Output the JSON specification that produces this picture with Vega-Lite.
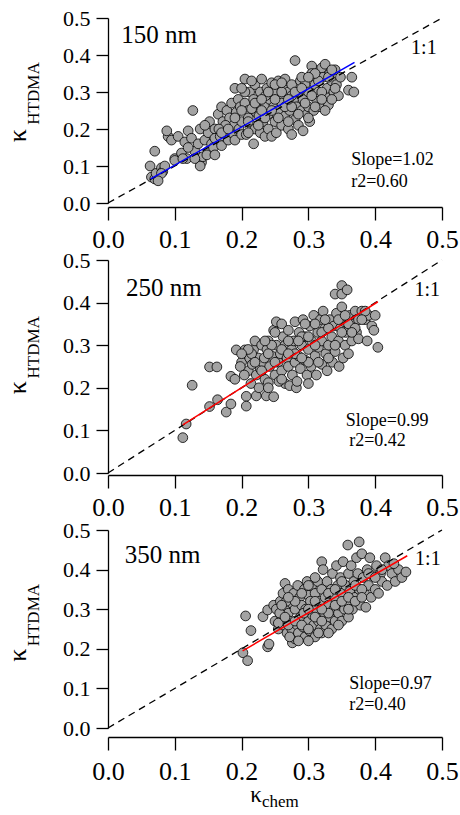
{
"$schema":"https://vega.github.io/schema/vega-lite/v6.json",
"padding":{"left":4,"top":7,"right":0,"bottom":0},
"bounds":"flush",
"spacing":57,
"config":{"font":"Liberation Serif","view":{"stroke":null},
"axis":{"grid":false,"domainColor":"black","domainWidth":1.3,"tickColor":"black","tickWidth":1.3,"labelColor":"black","labelFont":"Liberation Serif","title":null,"labelFlush":false,"labelOverlap":false,"labelBound":false,"labelSeparation":-30},
"axisY":{"tickSize":12,"labelPadding":6,"labelFontSize":22,"labelOverlap":false},
"axisX":{"tickSize":13,"labelPadding":6,"labelFontSize":26},
"text":{"font":"Liberation Serif","color":"black"}},
"datasets":{
"p150":[{"x":0.063,"y":0.1},{"x":0.065,"y":0.07},{"x":0.07,"y":0.065},{"x":0.072,"y":0.08},{"x":0.07,"y":0.14},{"x":0.08,"y":0.095},{"x":0.082,"y":0.085},{"x":0.085,"y":0.1},{"x":0.08,"y":0.08},{"x":0.075,"y":0.06},
{"x":0.09,"y":0.18},{"x":0.088,"y":0.195},{"x":0.095,"y":0.17},{"x":0.1,"y":0.12},{"x":0.105,"y":0.18},{"x":0.1,"y":0.115},{"x":0.11,"y":0.135},{"x":0.115,"y":0.165},{"x":0.118,"y":0.12},{"x":0.12,"y":0.195},{"x":0.112,"y":0.12},{"x":0.127,"y":0.25},
{"x":0.125,"y":0.175},{"x":0.13,"y":0.14},{"x":0.135,"y":0.16},{"x":0.138,"y":0.2},{"x":0.14,"y":0.11},{"x":0.138,"y":0.1},{"x":0.142,"y":0.125},{"x":0.145,"y":0.17},{"x":0.15,"y":0.19},{"x":0.15,"y":0.14},{"x":0.152,"y":0.22},{"x":0.155,"y":0.16},{"x":0.158,"y":0.15},{"x":0.16,"y":0.2},{"x":0.16,"y":0.175},{"x":0.148,"y":0.13},{"x":0.145,"y":0.21},
{"x":0.165,"y":0.24},{"x":0.168,"y":0.18},{"x":0.17,"y":0.26},{"x":0.17,"y":0.155},{"x":0.172,"y":0.22},{"x":0.175,"y":0.2},{"x":0.178,"y":0.25},{"x":0.18,"y":0.17},{"x":0.182,"y":0.23},{"x":0.185,"y":0.27},{"x":0.185,"y":0.19},{"x":0.188,"y":0.21},{"x":0.19,"y":0.31},{"x":0.19,"y":0.17},{"x":0.192,"y":0.245},{"x":0.195,"y":0.28},{"x":0.196,"y":0.2},{"x":0.198,"y":0.26},{"x":0.2,"y":0.22},{"x":0.2,"y":0.185},{"x":0.176,"y":0.21},{"x":0.166,"y":0.2},
{"x":0.205,"y":0.335},{"x":0.205,"y":0.27},{"x":0.207,"y":0.185},{"x":0.21,"y":0.25},{"x":0.21,"y":0.23},{"x":0.212,"y":0.3},{"x":0.215,"y":0.21},{"x":0.218,"y":0.16},{"x":0.218,"y":0.28},{"x":0.22,"y":0.32},{"x":0.22,"y":0.2},{"x":0.222,"y":0.245},{"x":0.225,"y":0.27},{"x":0.228,"y":0.3},{"x":0.228,"y":0.19},{"x":0.23,"y":0.335},{"x":0.232,"y":0.22},{"x":0.235,"y":0.26},{"x":0.235,"y":0.18},{"x":0.238,"y":0.31},{"x":0.24,"y":0.24},{"x":0.24,"y":0.2},{"x":0.242,"y":0.28},{"x":0.245,"y":0.325},{"x":0.245,"y":0.18},{"x":0.248,"y":0.26},{"x":0.25,"y":0.22},{"x":0.25,"y":0.3},{"x":0.215,"y":0.255},{"x":0.226,"y":0.235},{"x":0.236,"y":0.29},
{"x":0.252,"y":0.19},{"x":0.255,"y":0.33},{"x":0.255,"y":0.25},{"x":0.258,"y":0.28},{"x":0.26,"y":0.21},{"x":0.262,"y":0.31},{"x":0.265,"y":0.335},{"x":0.265,"y":0.235},{"x":0.268,"y":0.27},{"x":0.27,"y":0.2},{"x":0.27,"y":0.3},{"x":0.272,"y":0.25},{"x":0.275,"y":0.32},{"x":0.275,"y":0.185},{"x":0.278,"y":0.28},{"x":0.28,"y":0.385},{"x":0.28,"y":0.225},{"x":0.282,"y":0.26},{"x":0.285,"y":0.3},{"x":0.285,"y":0.21},{"x":0.288,"y":0.33},{"x":0.29,"y":0.25},{"x":0.292,"y":0.195},{"x":0.292,"y":0.28},{"x":0.295,"y":0.32},{"x":0.298,"y":0.24},{"x":0.3,"y":0.3},{"x":0.3,"y":0.26},{"x":0.26,"y":0.27},{"x":0.275,"y":0.29},
{"x":0.302,"y":0.22},{"x":0.305,"y":0.37},{"x":0.305,"y":0.35},{"x":0.308,"y":0.25},{"x":0.31,"y":0.32},{"x":0.312,"y":0.28},{"x":0.315,"y":0.3},{"x":0.318,"y":0.26},{"x":0.32,"y":0.365},{"x":0.322,"y":0.34},{"x":0.325,"y":0.375},{"x":0.325,"y":0.29},{"x":0.328,"y":0.31},{"x":0.33,"y":0.265},{"x":0.332,"y":0.35},{"x":0.335,"y":0.33},{"x":0.338,"y":0.3},{"x":0.34,"y":0.36},{"x":0.342,"y":0.32},{"x":0.345,"y":0.29},{"x":0.348,"y":0.34},{"x":0.36,"y":0.305},{"x":0.365,"y":0.34},{"x":0.368,"y":0.3},{"x":0.335,"y":0.28},
{"x":0.19,"y":0.23},{"x":0.2,"y":0.25},{"x":0.205,"y":0.3},{"x":0.21,"y":0.19},{"x":0.22,"y":0.27},{"x":0.225,"y":0.21},{"x":0.23,"y":0.28},{"x":0.235,"y":0.23},{"x":0.24,"y":0.3},{"x":0.245,"y":0.25},{"x":0.25,"y":0.28},{"x":0.255,"y":0.23},{"x":0.26,"y":0.3},{"x":0.265,"y":0.26},{"x":0.27,"y":0.22},{"x":0.275,"y":0.26},{"x":0.28,"y":0.3},{"x":0.285,"y":0.24},{"x":0.29,"y":0.31},{"x":0.295,"y":0.27},{"x":0.3,"y":0.23},{"x":0.305,"y":0.29},{"x":0.31,"y":0.26},{"x":0.315,"y":0.33},{"x":0.32,"y":0.3},{"x":0.325,"y":0.25},{"x":0.33,"y":0.34},{"x":0.34,"y":0.31},{"x":0.2,"y":0.31},{"x":0.215,"y":0.33},{"x":0.25,"y":0.32},{"x":0.26,"y":0.325},{"x":0.29,"y":0.34},{"x":0.31,"y":0.35},{"x":0.12,"y":0.15},{"x":0.13,"y":0.12},{"x":0.16,"y":0.13},{"x":0.17,"y":0.19},{"x":0.18,"y":0.2},{"x":0.21,"y":0.22},{"x":0.23,"y":0.25},{"x":0.27,"y":0.28},{"x":0.3,"y":0.34},{"x":0.335,"y":0.36},{"x":0.32,"y":0.28}],
"p250":[{"x":0.112,"y":0.083},{"x":0.117,"y":0.115},{"x":0.126,"y":0.206},{"x":0.152,"y":0.249},{"x":0.163,"y":0.249},{"x":0.152,"y":0.156},{"x":0.164,"y":0.172},{"x":0.177,"y":0.143},{"x":0.184,"y":0.162},{"x":0.184,"y":0.227},{"x":0.19,"y":0.22},
{"x":0.192,"y":0.289},{"x":0.2,"y":0.26},{"x":0.205,"y":0.289},{"x":0.207,"y":0.18},{"x":0.207,"y":0.157},{"x":0.21,"y":0.24},{"x":0.212,"y":0.27},{"x":0.214,"y":0.21},{"x":0.216,"y":0.255},{"x":0.218,"y":0.29},{"x":0.22,"y":0.31},{"x":0.222,"y":0.181},{"x":0.222,"y":0.23},{"x":0.225,"y":0.27},{"x":0.226,"y":0.2},{"x":0.228,"y":0.245},{"x":0.23,"y":0.3},{"x":0.198,"y":0.25},{"x":0.204,"y":0.23},{"x":0.215,"y":0.28},
{"x":0.232,"y":0.26},{"x":0.235,"y":0.22},{"x":0.237,"y":0.181},{"x":0.238,"y":0.29},{"x":0.24,"y":0.212},{"x":0.24,"y":0.31},{"x":0.242,"y":0.25},{"x":0.245,"y":0.275},{"x":0.248,"y":0.179},{"x":0.248,"y":0.335},{"x":0.25,"y":0.23},{"x":0.252,"y":0.355},{"x":0.252,"y":0.3},{"x":0.255,"y":0.26},{"x":0.258,"y":0.28},{"x":0.26,"y":0.35},{"x":0.26,"y":0.24},{"x":0.262,"y":0.32},{"x":0.265,"y":0.21},{"x":0.265,"y":0.3},{"x":0.268,"y":0.27},{"x":0.27,"y":0.25},{"x":0.27,"y":0.335},{"x":0.245,"y":0.3},{"x":0.234,"y":0.27},{"x":0.256,"y":0.215},
{"x":0.272,"y":0.205},{"x":0.275,"y":0.29},{"x":0.276,"y":0.23},{"x":0.278,"y":0.31},{"x":0.28,"y":0.355},{"x":0.28,"y":0.26},{"x":0.282,"y":0.2},{"x":0.285,"y":0.275},{"x":0.286,"y":0.33},{"x":0.288,"y":0.245},{"x":0.29,"y":0.3},{"x":0.292,"y":0.36},{"x":0.295,"y":0.265},{"x":0.295,"y":0.32},{"x":0.298,"y":0.23},{"x":0.3,"y":0.29},{"x":0.302,"y":0.345},{"x":0.304,"y":0.25},{"x":0.305,"y":0.31},{"x":0.308,"y":0.37},{"x":0.31,"y":0.275},{"x":0.312,"y":0.23},{"x":0.314,"y":0.33},{"x":0.315,"y":0.295},{"x":0.318,"y":0.36},{"x":0.32,"y":0.255},{"x":0.32,"y":0.31},{"x":0.283,"y":0.215},{"x":0.3,"y":0.21},
{"x":0.322,"y":0.38},{"x":0.325,"y":0.34},{"x":0.326,"y":0.28},{"x":0.328,"y":0.24},{"x":0.33,"y":0.3},{"x":0.332,"y":0.36},{"x":0.335,"y":0.32},{"x":0.336,"y":0.26},{"x":0.338,"y":0.345},{"x":0.34,"y":0.42},{"x":0.34,"y":0.285},{"x":0.342,"y":0.375},{"x":0.345,"y":0.31},{"x":0.346,"y":0.25},{"x":0.348,"y":0.34},{"x":0.35,"y":0.44},{"x":0.35,"y":0.42},{"x":0.35,"y":0.39},{"x":0.352,"y":0.27},{"x":0.354,"y":0.355},{"x":0.355,"y":0.3},{"x":0.356,"y":0.33},{"x":0.358,"y":0.43},{"x":0.36,"y":0.28},
{"x":0.362,"y":0.37},{"x":0.365,"y":0.31},{"x":0.368,"y":0.35},{"x":0.37,"y":0.38},{"x":0.372,"y":0.33},{"x":0.375,"y":0.315},{"x":0.38,"y":0.38},{"x":0.385,"y":0.36},{"x":0.388,"y":0.31},{"x":0.39,"y":0.37},{"x":0.395,"y":0.345},{"x":0.398,"y":0.335},{"x":0.4,"y":0.37},{"x":0.404,"y":0.295},{"x":0.385,"y":0.38},{"x":0.375,"y":0.36},
{"x":0.22,"y":0.26},{"x":0.23,"y":0.24},{"x":0.24,"y":0.28},{"x":0.25,"y":0.26},{"x":0.26,"y":0.29},{"x":0.27,"y":0.31},{"x":0.28,"y":0.28},{"x":0.29,"y":0.32},{"x":0.3,"y":0.26},{"x":0.31,"y":0.3},{"x":0.32,"y":0.33},{"x":0.33,"y":0.27},{"x":0.34,"y":0.3},{"x":0.35,"y":0.33},{"x":0.36,"y":0.35},{"x":0.37,"y":0.34},{"x":0.33,"y":0.34},{"x":0.31,"y":0.35},{"x":0.29,"y":0.27},{"x":0.27,"y":0.28},{"x":0.25,"y":0.33},{"x":0.235,"y":0.31},{"x":0.21,"y":0.29},{"x":0.2,"y":0.28},{"x":0.3,"y":0.32},{"x":0.315,"y":0.26},{"x":0.345,"y":0.36},{"x":0.355,"y":0.37},{"x":0.365,"y":0.33},{"x":0.38,"y":0.36},{"x":0.26,"y":0.22},{"x":0.24,"y":0.2},{"x":0.285,"y":0.31},{"x":0.295,"y":0.35},{"x":0.325,"y":0.36}],
"p350":[{"x":0.202,"y":0.19},{"x":0.209,"y":0.17},{"x":0.206,"y":0.283},{"x":0.214,"y":0.246},{"x":0.232,"y":0.281},{"x":0.239,"y":0.205},{"x":0.241,"y":0.212},{"x":0.239,"y":0.298},
{"x":0.248,"y":0.31},{"x":0.25,"y":0.27},{"x":0.252,"y":0.3},{"x":0.255,"y":0.25},{"x":0.258,"y":0.32},{"x":0.26,"y":0.28},{"x":0.262,"y":0.34},{"x":0.262,"y":0.26},{"x":0.265,"y":0.3},{"x":0.265,"y":0.365},{"x":0.268,"y":0.24},{"x":0.27,"y":0.35},{"x":0.27,"y":0.29},{"x":0.272,"y":0.27},{"x":0.275,"y":0.315},{"x":0.275,"y":0.25},{"x":0.276,"y":0.215},{"x":0.278,"y":0.34},{"x":0.28,"y":0.225},{"x":0.28,"y":0.3},{"x":0.257,"y":0.29},{"x":0.267,"y":0.32},{"x":0.272,"y":0.23},{"x":0.283,"y":0.26},
{"x":0.284,"y":0.36},{"x":0.285,"y":0.24},{"x":0.287,"y":0.33},{"x":0.288,"y":0.28},{"x":0.29,"y":0.31},{"x":0.292,"y":0.255},{"x":0.294,"y":0.35},{"x":0.295,"y":0.23},{"x":0.296,"y":0.3},{"x":0.298,"y":0.37},{"x":0.3,"y":0.27},{"x":0.3,"y":0.335},{"x":0.302,"y":0.245},{"x":0.304,"y":0.31},{"x":0.305,"y":0.36},{"x":0.306,"y":0.285},{"x":0.308,"y":0.26},{"x":0.31,"y":0.34},{"x":0.31,"y":0.23},{"x":0.312,"y":0.3},{"x":0.314,"y":0.37},{"x":0.315,"y":0.27},{"x":0.317,"y":0.32},{"x":0.318,"y":0.25},{"x":0.32,"y":0.42},{"x":0.32,"y":0.35},{"x":0.32,"y":0.24},{"x":0.293,"y":0.29},{"x":0.303,"y":0.32},
{"x":0.322,"y":0.4},{"x":0.324,"y":0.29},{"x":0.325,"y":0.33},{"x":0.326,"y":0.26},{"x":0.328,"y":0.37},{"x":0.33,"y":0.31},{"x":0.332,"y":0.28},{"x":0.334,"y":0.35},{"x":0.335,"y":0.25},{"x":0.336,"y":0.39},{"x":0.338,"y":0.3},{"x":0.34,"y":0.33},{"x":0.34,"y":0.27},{"x":0.342,"y":0.41},{"x":0.344,"y":0.36},{"x":0.345,"y":0.29},{"x":0.346,"y":0.31},{"x":0.348,"y":0.38},{"x":0.35,"y":0.34},{"x":0.35,"y":0.27},{"x":0.352,"y":0.42},{"x":0.354,"y":0.3},{"x":0.356,"y":0.36},{"x":0.358,"y":0.32},{"x":0.359,"y":0.462},{"x":0.36,"y":0.39},{"x":0.36,"y":0.28},
{"x":0.362,"y":0.345},{"x":0.364,"y":0.41},{"x":0.366,"y":0.3},{"x":0.368,"y":0.37},{"x":0.37,"y":0.33},{"x":0.372,"y":0.43},{"x":0.374,"y":0.39},{"x":0.376,"y":0.47},{"x":0.376,"y":0.35},{"x":0.378,"y":0.31},{"x":0.38,"y":0.44},{"x":0.382,"y":0.38},{"x":0.384,"y":0.34},{"x":0.386,"y":0.305},{"x":0.388,"y":0.4},{"x":0.39,"y":0.36},{"x":0.392,"y":0.43},{"x":0.394,"y":0.33},{"x":0.396,"y":0.385},{"x":0.4,"y":0.35},{"x":0.402,"y":0.41},{"x":0.405,"y":0.34},{"x":0.408,"y":0.39},{"x":0.41,"y":0.37},{"x":0.415,"y":0.43},{"x":0.418,"y":0.36},{"x":0.42,"y":0.41},{"x":0.425,"y":0.39},{"x":0.43,"y":0.37},{"x":0.435,"y":0.4},{"x":0.44,"y":0.38},{"x":0.446,"y":0.394},{"x":0.428,"y":0.415},
{"x":0.27,"y":0.26},{"x":0.28,"y":0.27},{"x":0.29,"y":0.26},{"x":0.3,"y":0.25},{"x":0.31,"y":0.28},{"x":0.32,"y":0.27},{"x":0.33,"y":0.29},{"x":0.34,"y":0.31},{"x":0.35,"y":0.32},{"x":0.36,"y":0.33},{"x":0.37,"y":0.36},{"x":0.38,"y":0.35},{"x":0.39,"y":0.39},{"x":0.4,"y":0.38},{"x":0.41,"y":0.4},{"x":0.3,"y":0.3},{"x":0.31,"y":0.32},{"x":0.32,"y":0.3},{"x":0.33,"y":0.34},{"x":0.34,"y":0.35},{"x":0.35,"y":0.37},{"x":0.28,"y":0.32},{"x":0.29,"y":0.34},{"x":0.3,"y":0.36},{"x":0.31,"y":0.38},{"x":0.26,"y":0.31},{"x":0.27,"y":0.33},{"x":0.285,"y":0.22},{"x":0.3,"y":0.22},{"x":0.315,"y":0.24},{"x":0.33,"y":0.24},{"x":0.345,"y":0.26},{"x":0.36,"y":0.3},{"x":0.37,"y":0.32},{"x":0.38,"y":0.33},{"x":0.255,"y":0.265},{"x":0.265,"y":0.28}],
"one":[{"x":0,"y":0},{"x":0.5,"y":0.5}],
"f150":[{"x":0.064,"y":0.065},{"x":0.369,"y":0.38}],
"f250":[{"x":0.112,"y":0.113},{"x":0.404,"y":0.402}],
"f350":[{"x":0.2015,"y":0.195},{"x":0.448,"y":0.435}],
"blank":[{}]
},
"vconcat":[
{"width":334,"height":185,
"layer":[
{"data":{"name":"p150"},"mark":{"type":"circle","size":95,"color":"#a3a3a3","opacity":1,"stroke":"black","strokeWidth":0.8},
"encoding":{"x":{"field":"x","type":"quantitative","scale":{"domain":[0,0.5],"nice":false,"zero":false},"axis":{"offset":4,"values":[0,0.1,0.2,0.3,0.4,0.5],"format":".1f","labelOverlap":false}},"y":{"field":"y","type":"quantitative","scale":{"domain":[0,0.5],"nice":false,"zero":false},"axis":{"values":[0,0.1,0.2,0.3,0.4,0.5],"format":".1f","labelOverlap":false,"tickCount":6,"labelSeparation":-30}}}},
{"data":{"name":"one"},"mark":{"type":"line","color":"black","strokeWidth":1.3,"strokeDash":[7,5]},"encoding":{"x":{"field":"x","type":"quantitative"},"y":{"field":"y","type":"quantitative"}}},
{"data":{"name":"f150"},"mark":{"type":"line","color":"#0000ff","strokeWidth":1.5},"encoding":{"x":{"field":"x","type":"quantitative"},"y":{"field":"y","type":"quantitative"}}},
{"data":{"name":"blank"},"mark":{"type":"text","text":"150 nm","fontSize":25,"align":"left","baseline":"middle"},"encoding":{"x":{"datum":0.02},"y":{"datum":0.454}}},
{"data":{"name":"blank"},"mark":{"type":"text","text":"1:1","fontSize":20,"align":"right","baseline":"middle"},"encoding":{"x":{"datum":0.492},"y":{"datum":0.42}}},
{"data":{"name":"blank"},"mark":{"type":"text","text":"Slope=1.02","fontSize":18,"align":"left","baseline":"middle"},"encoding":{"x":{"datum":0.364},"y":{"datum":0.117}}},
{"data":{"name":"blank"},"mark":{"type":"text","text":"r2=0.60","fontSize":18,"align":"left","baseline":"middle"},"encoding":{"x":{"datum":0.364},"y":{"datum":0.057}}},
{"data":{"name":"blank"},"mark":{"type":"text","text":"κ","fontSize":26,"angle":270,"align":"center","baseline":"alphabetic"},"encoding":{"x":{"datum":-0.1228},"y":{"datum":0.182}}},
{"data":{"name":"blank"},"mark":{"type":"text","text":"HTDMA","fontSize":17,"angle":270,"align":"center","baseline":"alphabetic"},"encoding":{"x":{"datum":-0.1033},"y":{"datum":0.296}}}
]},
{"width":334,"height":213,
"layer":[
{"data":{"name":"p250"},"mark":{"type":"circle","size":95,"color":"#a3a3a3","opacity":1,"stroke":"black","strokeWidth":0.8},
"encoding":{"x":{"field":"x","type":"quantitative","scale":{"domain":[0,0.5],"nice":false,"zero":false},"axis":{"offset":2,"values":[0,0.1,0.2,0.3,0.4,0.5],"format":".1f","labelOverlap":false}},"y":{"field":"y","type":"quantitative","scale":{"domain":[0,0.5],"nice":false,"zero":false},"axis":{"values":[0,0.1,0.2,0.3,0.4,0.5],"format":".1f","labelOverlap":false,"tickCount":6,"labelSeparation":-30}}}},
{"data":{"name":"one"},"mark":{"type":"line","color":"black","strokeWidth":1.3,"strokeDash":[7,5]},"encoding":{"x":{"field":"x","type":"quantitative"},"y":{"field":"y","type":"quantitative"}}},
{"data":{"name":"f250"},"mark":{"type":"line","color":"#ff0000","strokeWidth":1.5},"encoding":{"x":{"field":"x","type":"quantitative"},"y":{"field":"y","type":"quantitative"}}},
{"data":{"name":"blank"},"mark":{"type":"text","text":"250 nm","fontSize":25,"align":"left","baseline":"middle"},"encoding":{"x":{"datum":0.027},"y":{"datum":0.435}}},
{"data":{"name":"blank"},"mark":{"type":"text","text":"1:1","fontSize":20,"align":"right","baseline":"middle"},"encoding":{"x":{"datum":0.497},"y":{"datum":0.43}}},
{"data":{"name":"blank"},"mark":{"type":"text","text":"Slope=0.99","fontSize":18,"align":"left","baseline":"middle"},"encoding":{"x":{"datum":0.356},"y":{"datum":0.123}}},
{"data":{"name":"blank"},"mark":{"type":"text","text":"r2=0.42","fontSize":18,"align":"left","baseline":"middle"},"encoding":{"x":{"datum":0.361},"y":{"datum":0.074}}},
{"data":{"name":"blank"},"mark":{"type":"text","text":"κ","fontSize":26,"angle":270,"align":"center","baseline":"alphabetic"},"encoding":{"x":{"datum":-0.1228},"y":{"datum":0.2}}},
{"data":{"name":"blank"},"mark":{"type":"text","text":"HTDMA","fontSize":17,"angle":270,"align":"center","baseline":"alphabetic"},"encoding":{"x":{"datum":-0.1033},"y":{"datum":0.295}}}
]},
{"width":334,"height":198,
"layer":[
{"data":{"name":"p350"},"mark":{"type":"circle","size":95,"color":"#a3a3a3","opacity":1,"stroke":"black","strokeWidth":0.8},
"encoding":{"x":{"field":"x","type":"quantitative","scale":{"domain":[0,0.5],"nice":false,"zero":false},"axis":{"offset":9,"labelPadding":8,"values":[0,0.1,0.2,0.3,0.4,0.5],"format":".1f","labelOverlap":false}},"y":{"field":"y","type":"quantitative","scale":{"domain":[0,0.5],"nice":false,"zero":false},"axis":{"values":[0,0.1,0.2,0.3,0.4,0.5],"format":".1f","labelOverlap":false,"tickCount":6,"labelSeparation":-30}}}},
{"data":{"name":"one"},"mark":{"type":"line","color":"black","strokeWidth":1.3,"strokeDash":[7,5]},"encoding":{"x":{"field":"x","type":"quantitative"},"y":{"field":"y","type":"quantitative"}}},
{"data":{"name":"f350"},"mark":{"type":"line","color":"#ff0000","strokeWidth":1.5},"encoding":{"x":{"field":"x","type":"quantitative"},"y":{"field":"y","type":"quantitative"}}},
{"data":{"name":"blank"},"mark":{"type":"text","text":"350 nm","fontSize":25,"align":"left","baseline":"middle"},"encoding":{"x":{"datum":0.025},"y":{"datum":0.437}}},
{"data":{"name":"blank"},"mark":{"type":"text","text":"1:1","fontSize":20,"align":"right","baseline":"middle"},"encoding":{"x":{"datum":0.498},"y":{"datum":0.426}}},
{"data":{"name":"blank"},"mark":{"type":"text","text":"Slope=0.97","fontSize":18,"align":"left","baseline":"middle"},"encoding":{"x":{"datum":0.361},"y":{"datum":0.112}}},
{"data":{"name":"blank"},"mark":{"type":"text","text":"r2=0.40","fontSize":18,"align":"left","baseline":"middle"},"encoding":{"x":{"datum":0.361},"y":{"datum":0.059}}},
{"data":{"name":"blank"},"mark":{"type":"text","text":"κ","fontSize":26,"angle":270,"align":"center","baseline":"alphabetic"},"encoding":{"x":{"datum":-0.1228},"y":{"datum":0.184}}},
{"data":{"name":"blank"},"mark":{"type":"text","text":"HTDMA","fontSize":17,"angle":270,"align":"center","baseline":"alphabetic"},"encoding":{"x":{"datum":-0.1033},"y":{"datum":0.285}}},
{"data":{"name":"blank"},"mark":{"type":"text","text":"κ","fontSize":23,"align":"left","baseline":"alphabetic"},"encoding":{"x":{"datum":0.213},"y":{"datum":-0.188}}},
{"data":{"name":"blank"},"mark":{"type":"text","text":"chem","fontSize":17,"align":"left","baseline":"alphabetic"},"encoding":{"x":{"datum":0.2305},"y":{"datum":-0.2}}}
]}
]
}
